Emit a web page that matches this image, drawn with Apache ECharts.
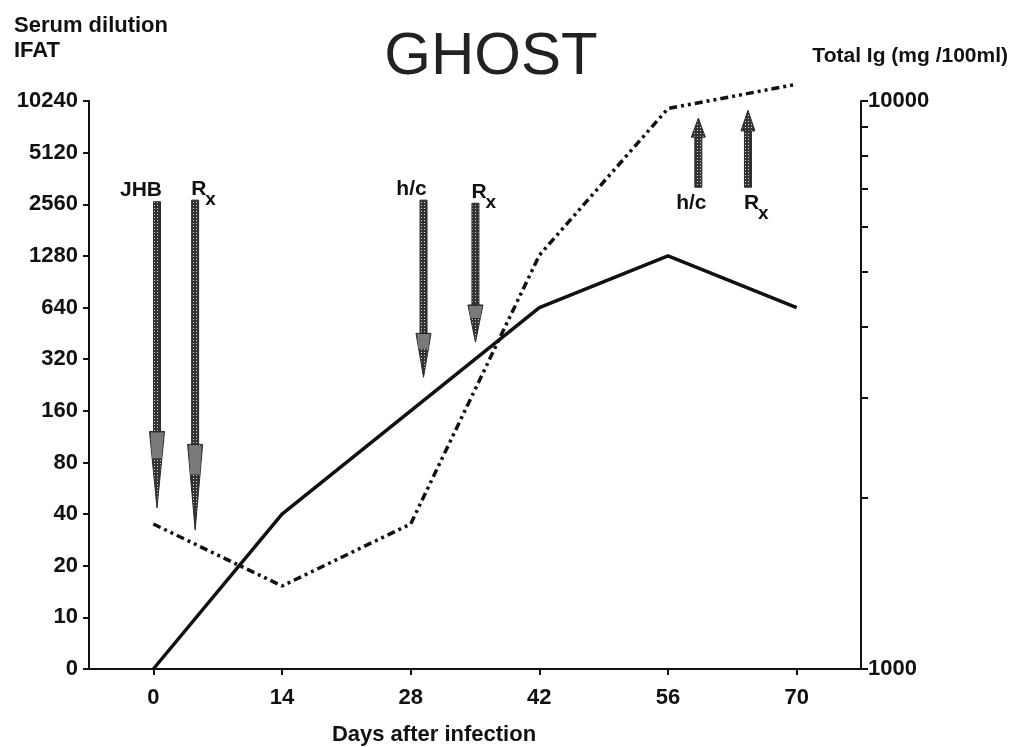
<!DOCTYPE html>
<html>
<head>
<meta charset="utf-8">
<title>GHOST</title>
<script src="https://cdn.jsdelivr.net/npm/echarts@6/dist/echarts.min.js"></script>
<style>
  html, body { margin: 0; padding: 0; background: #fff; }
  #chart { width: 1013px; height: 747px; }
</style>
</head>
<body>
<div id="chart"></div>
<script>
// days after infection
const days = [0, 14, 28, 42, 56, 70]
const dayTicks = [0, 14, 28, 42, 56, 70]
// serum dilution (IFAT), left axis, equally spaced doubling steps
const titreTicks = ['0', '10', '20', '40', '80', '160', '320', '640', '1280', '2560', '5120', '10240']
const ifatTitre = ['0', '40', '160', '640', '1280', '640']
// total Ig (mg/100ml), right log axis
const totalIg = [1800, 1400, 1800, 5350, 9700, 10700]
const igTicks = [1000, 2000, 3000, 4000, 5000, 6000, 7000, 8000, 9000, 10000]
const igLabels = [1000, 10000]

// events: day, shaft start, head start, tip (in titre steps), label
const arrowDay = [0.4, 4.55, 29.4, 35.05, 59.3, 64.7]
const arrowStart = [9.05, 9.08, 9.08, 9.02, 9.33, 9.33]
const arrowHead = [4.6, 4.35, 6.5, 7.05, 10.3, 10.42]
const arrowTip = [3.12, 2.69, 5.65, 6.33, 10.67, 10.82]
const arrowText = ['JHB', 'Rx', 'h/c', 'Rx', 'h/c', 'Rx']

const FONT = 'Liberation Sans, Arial, sans-serif'

function stipple() {
  const c = document.createElement('canvas')
  c.width = 3
  c.height = 3
  const g = c.getContext('2d')
  g.fillStyle = '#333'
  g.fillRect(0, 0, 3, 3)
  g.fillStyle = '#d5d5d5'
  g.fillRect(1, 1, 1, 1)
  return c
}
const dots = {image: stipple(), repeat: 'repeat'}

function labelEls(txt, x, y, up) {
  const ts = {fontFamily: FONT, fontSize: 21, fontWeight: 'bold', fill: '#111', verticalAlign: 'middle'}
  const cy = up ? y + 16 : y - 11
  if (txt === 'Rx') {
    return [
      {type: 'text', style: Object.assign({}, ts, {text: 'R', x: x - 4, y: cy, align: 'left'})},
      {type: 'text', style: Object.assign({}, ts, {text: 'x', x: x + 10, y: cy + 11, align: 'left', fontSize: 19})}
    ]
  }
  const dx = txt === 'JHB' ? -16 : (up ? -7 : -12)
  return [{type: 'text', style: Object.assign({}, ts, {text: txt, x: x + dx, y: cy, align: 'center'})}]
}

function renderArrow(params, api) {
  const i = params.dataIndex
  const p0 = api.coord([api.value(0), api.value(1)])
  const ph = api.coord([api.value(0), api.value(2)])
  const pt = api.coord([api.value(0), api.value(3)])
  const x = p0[0]
  const up = pt[1] < p0[1]
  const hw = up ? 7 : 7.5
  const headLen = ph[1] - pt[1]
  const els = [
    {
      type: 'rect',
      shape: {x: x - 3.5, y: Math.min(p0[1], ph[1]), width: 7, height: Math.abs(ph[1] - p0[1])},
      style: {fill: dots, stroke: '#2a2a2a', lineWidth: 1}
    },
    {
      type: 'polygon',
      shape: {points: [[x - hw, ph[1]], [x + hw, ph[1]], [x, pt[1]]]},
      style: {fill: dots, stroke: '#2a2a2a', lineWidth: 1}
    }
  ]
  if (!up) {
    const k = 0.35
    els.push({
      type: 'polygon',
      shape: {points: [[x - hw + 1, ph[1] + 1], [x + hw - 1, ph[1] + 1], [x + hw * (1 - k), ph[1] - headLen * k], [x - hw * (1 - k), ph[1] - headLen * k]]},
      style: {fill: '#7a7a7a', stroke: null}
    })
  }
  return {type: 'group', children: els.concat(labelEls(arrowText[i], x, p0[1], up))}
}

const chart = echarts.init(document.getElementById('chart'))

const axisLine = {show: true, onZero: false, lineStyle: {color: '#111', width: 2}}
const labelStyle = {color: '#111', fontSize: 22, fontWeight: 'bold', fontFamily: FONT}

const option = {
  backgroundColor: '#fff',
  animation: false,
  grid: {left: 89, right: 152, top: 101, bottom: 78, outerBoundsMode: 'none'},
  graphic: [
    {type: 'text', style: {text: 'GHOST', x: 491, y: 57, align: 'center', verticalAlign: 'middle', fontSize: 60, fontFamily: FONT, fill: '#222'}},
    {type: 'text', style: {text: 'Serum dilution', x: 14, y: 26, verticalAlign: 'middle', fontSize: 22, fontWeight: 'bold', fontFamily: FONT, fill: '#111'}},
    {type: 'text', style: {text: 'IFAT', x: 14, y: 51, verticalAlign: 'middle', fontSize: 22, fontWeight: 'bold', fontFamily: FONT, fill: '#111'}},
    {type: 'text', style: {text: 'Total Ig (mg /100ml)', x: 1008, y: 56, align: 'right', verticalAlign: 'middle', fontSize: 21, fontWeight: 'bold', fontFamily: FONT, fill: '#111'}}
  ],
  xAxis: {
    type: 'value',
    min: -7,
    max: 77,
    axisLine: axisLine,
    axisTick: {customValues: dayTicks, length: 6, lineStyle: {color: '#111', width: 2}},
    axisLabel: Object.assign({customValues: dayTicks, margin: 18}, labelStyle),
    splitLine: {show: false},
    name: 'Days after infection',
    nameLocation: 'middle',
    nameGap: 55,
    nameTextStyle: Object.assign({padding: [0, 82, 0, 0]}, labelStyle)
  },
  yAxis: [
    {
      type: 'value',
      min: 0,
      max: 11,
      interval: 1,
      axisLine: axisLine,
      axisTick: {show: true, length: 6, lineStyle: {color: '#111', width: 2}},
      axisLabel: Object.assign({margin: 11, formatter: v => titreTicks[Math.round(v)]}, labelStyle),
      splitLine: {show: false}
    },
    {
      type: 'log',
      logBase: 10,
      min: 1000,
      max: 10000,
      position: 'right',
      axisLine: axisLine,
      axisTick: {show: true, customValues: igTicks, length: 7, lineStyle: {color: '#111', width: 2}},
      axisLabel: Object.assign({customValues: igLabels, margin: 7, formatter: v => String(Math.round(v))}, labelStyle),
      splitLine: {show: false}
    }
  ],
  series: [
    {
      name: 'Serum dilution IFAT',
      type: 'line',
      yAxisIndex: 0,
      data: days.map((d, i) => [d, titreTicks.indexOf(ifatTitre[i])]),
      symbol: 'none',
      lineStyle: {color: '#111', width: 3.5},
      z: 3
    },
    {
      name: 'Total Ig',
      type: 'line',
      yAxisIndex: 1,
      data: days.map((d, i) => [d, totalIg[i]]),
      symbol: 'none',
      clip: false,
      lineStyle: {color: '#111', width: 3.5, type: [8, 4, 3, 4, 3, 4], cap: 'butt'},
      z: 3
    },
    {
      name: 'events',
      type: 'custom',
      yAxisIndex: 0,
      clip: false,
      renderItem: renderArrow,
      encode: {x: 0, y: [1, 2, 3]},
      data: arrowDay.map((d, i) => [d, arrowStart[i], arrowHead[i], arrowTip[i]]),
      z: 4
    }
  ]
}

chart.setOption(option)
</script>
</body>
</html>
